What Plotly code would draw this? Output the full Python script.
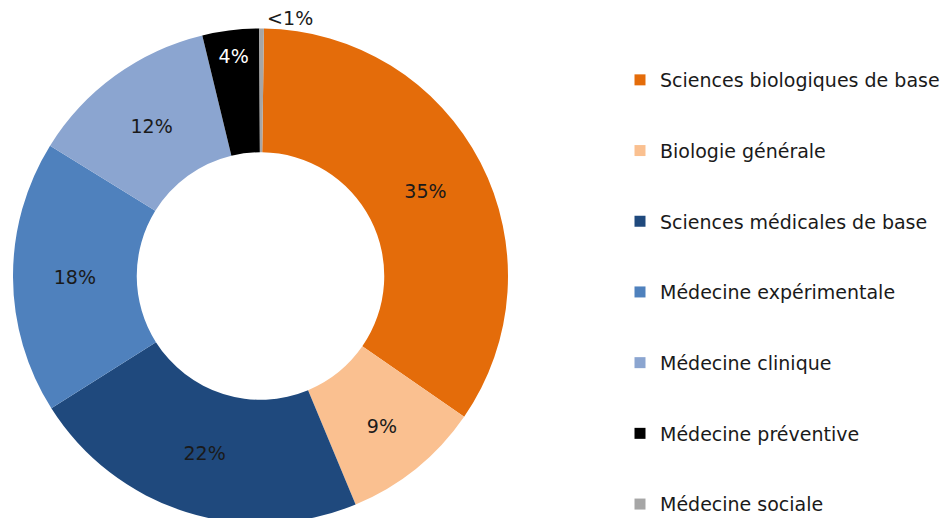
import plotly.graph_objects as go

# Répartition par discipline
categories = ['Sciences biologiques de base', 'Biologie générale',
              'Sciences médicales de base', 'Médecine expérimentale',
              'Médecine clinique', 'Médecine préventive', 'Médecine sociale']
shares = [34.4, 9.1, 22.3, 17.8, 12.4, 3.7, 0.3]
share_labels = ['35%', '9%', '22%', '18%', '12%', '4%', '<1%']

colors = ['#E46C0A', '#FAC090', '#1F497D', '#4F81BD', '#8BA5D0', '#000000', '#A6A6A6']
text_colors = ['#1a1a1a'] * 5 + ['#ffffff', '#1a1a1a']
positions = ['inside'] * 6 + ['outside']

W, H = 948, 540
FONT = 'DejaVu Sans, Verdana, sans-serif'

fig = go.Figure()

fig.add_trace(go.Pie(
    labels=categories,
    values=shares,
    text=share_labels,
    textinfo='text',
    textposition=positions,
    insidetextorientation='horizontal',
    textfont=dict(family=FONT, size=19, color=text_colors),
    marker=dict(colors=colors, line=dict(width=0)),
    hole=0.5,
    sort=False,
    direction='clockwise',
    rotation=0.8,
    automargin=False,
    showlegend=False,
    domain=dict(x=[5 / W, 500 / W], y=[(H - 516) / H, (H - 20) / H]),
))

# legende: une entree par categorie, pour pouvoir espacer les lignes
for name, c in zip(categories, colors):
    fig.add_trace(go.Scatter(
        x=[None], y=[None], mode='markers', name=name, legendgroup=name,
        marker=dict(symbol='square', size=11, color=c, line=dict(width=0)),
    ))

fig.update_layout(
    width=W, height=H,
    margin=dict(l=0, r=0, t=0, b=0, autoexpand=False),
    paper_bgcolor='white',
    plot_bgcolor='white',
    font=dict(family=FONT, size=19, color='#1a1a1a'),
    xaxis=dict(visible=False),
    yaxis=dict(visible=False),
    legend=dict(
        x=612 / W, xanchor='left',
        y=1 - 53 / H, yanchor='top',
        tracegroupgap=43,
        itemclick=False,
        font=dict(family=FONT, size=19, color='#1a1a1a'),
        bgcolor='rgba(0,0,0,0)',
    ),
)

fig.write_html("out.html")
